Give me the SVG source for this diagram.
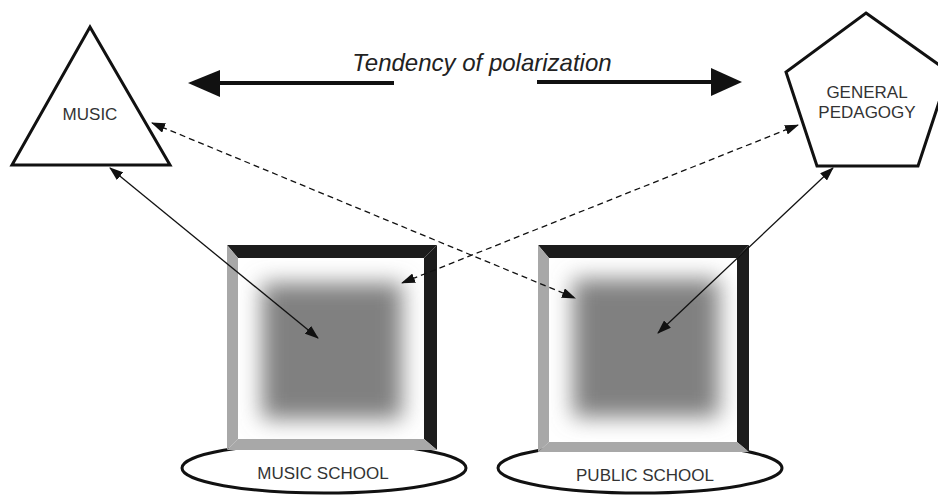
<svg xmlns="http://www.w3.org/2000/svg" width="938" height="495" viewBox="0 0 938 495">
<style>
.shape{fill:#fff;stroke:#111;stroke-width:3}
.lbl{font-family:"Liberation Sans",Arial,sans-serif;font-size:17px;fill:#333;text-anchor:middle}
.title{font-family:"Liberation Sans",Arial,sans-serif;font-size:24px;font-style:italic;fill:#222;text-anchor:middle}
.dark{fill:#1c1c1c}
.light{fill:#a8a8a8}
.conn{stroke:#111;stroke-width:1.3;fill:none;marker-start:url(#ah);marker-end:url(#ah)}
.dash{stroke-dasharray:6 4}
.big{stroke:#111;stroke-width:4;fill:none}
</style>
<defs>
<marker id="ah" viewBox="0 0 14 10" refX="13" refY="5" markerWidth="14" markerHeight="10" markerUnits="userSpaceOnUse" orient="auto-start-reverse">
<path d="M0,0 L14,5 L0,10 z" fill="#111"/>
</marker>
<filter id="blur" x="-30%" y="-30%" width="160%" height="160%">
<feGaussianBlur stdDeviation="11"/>
</filter>
<clipPath id="c1"><rect x="238" y="258" width="186" height="181"/></clipPath>
<clipPath id="c2"><rect x="549" y="258" width="188" height="184"/></clipPath>
</defs>
<rect width="938" height="495" fill="#fff"/>

<g id="music">
<polygon class="shape" points="90,27 170,165 12,165"/>
<text class="lbl" x="90" y="120">MUSIC</text>
</g>

<g id="general-pedagogy">
<polygon class="shape" points="866,13 949,72 918,166 817,166 786,72"/>
<text class="lbl" x="867" y="98">GENERAL</text>
<text class="lbl" x="867" y="118">PEDAGOGY</text>
</g>

<g id="music-school">
<ellipse class="shape" cx="324" cy="468" rx="142" ry="25" stroke-width="2.5"/>
<rect x="238" y="258" width="186" height="181" fill="#fff"/>
<g clip-path="url(#c1)"><rect x="262" y="283" width="140" height="136" fill="#808080" filter="url(#blur)"/></g>
<polygon class="dark" points="227,245 437,245 424,258 238,258"/>
<polygon class="dark" points="437,245 437,450 424,439 424,258"/>
<polygon class="light" points="227,245 238,258 238,439 227,450"/>
<polygon class="light" points="227,450 238,439 424,439 437,450"/>
<text class="lbl" x="323" y="479">MUSIC SCHOOL</text>
</g>

<g id="public-school">
<ellipse class="shape" cx="640" cy="468" rx="142" ry="25" stroke-width="2.5"/>
<rect x="549" y="258" width="188" height="184" fill="#fff"/>
<g clip-path="url(#c2)"><rect x="573" y="279" width="146" height="138" fill="#808080" filter="url(#blur)"/></g>
<polygon class="dark" points="538,245 749,245 737,258 549,258"/>
<polygon class="dark" points="749,245 749,452 737,442 737,258"/>
<polygon class="light" points="538,245 549,258 549,442 538,452"/>
<polygon class="light" points="538,452 549,442 737,442 749,452"/>
<text class="lbl" x="645" y="481">PUBLIC SCHOOL</text>
</g>

<g id="connectors">
<line class="conn" x1="110" y1="168" x2="318" y2="338"/>
<line class="conn" x1="833" y1="168" x2="658" y2="333"/>
<line class="conn dash" x1="152" y1="123" x2="575" y2="298"/>
<line class="conn dash" x1="798" y1="125" x2="402" y2="283"/>
<line class="big" x1="215" y1="83" x2="394" y2="83"/>
<polygon points="188,83 220,70 220,97" fill="#111"/>
<line class="big" x1="537" y1="82" x2="716" y2="82"/>
<polygon points="742,82 711,68 711,96" fill="#111"/>
</g>
<text class="title" x="482" y="71">Tendency of polarization</text>
</svg>
